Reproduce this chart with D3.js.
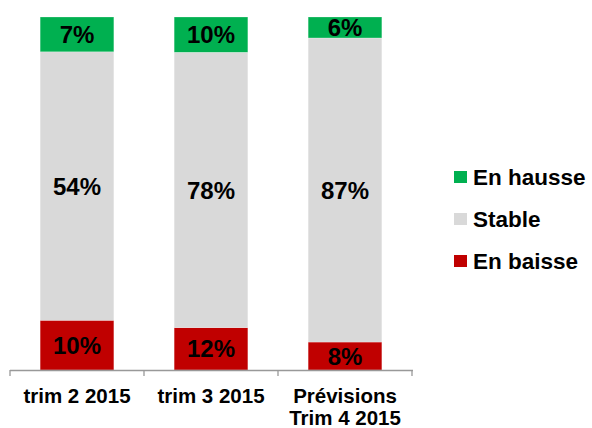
<!DOCTYPE html>
<meta charset="utf-8">
<style>
    body { margin: 0; background: #fff; }
    svg { font-family: Arial, "Liberation Sans", sans-serif; font-weight: bold; }
</style>
<body>
<svg id="chart" width="592" height="428"></svg>
<script src="https://cdn.jsdelivr.net/npm/d3@7"></script>
<script>
    // Chart values
    var categories = [["trim 2 2015"], ["trim 3 2015"], ["Prévisions", "Trim 4 2015"]];
    var enBaisse = [10, 12, 8];
    var stable = [54, 78, 87];
    var enHausse = [7, 10, 6];
    var seriesNames = ["En baisse", "Stable", "En hausse"];
    var colors = ["#C00000", "#D9D9D9", "#00B050"];

    var rows = categories.map(function (c, i) {
        return { key: i, "En baisse": enBaisse[i], "Stable": stable[i], "En hausse": enHausse[i] };
    });

    var svg = d3.select("#chart"),
        plotLeft = 10, plotRight = 412, plotTop = 17, plotBottom = 370;

    var x = d3.scaleBand().domain(d3.range(categories.length)).range([plotLeft, plotRight]).paddingInner(0.45).paddingOuter(0.225),
        y = d3.scaleLinear().domain([0, 1]).range([plotBottom, plotTop]);

    var stack = d3.stack().keys(seriesNames).offset(d3.stackOffsetExpand);
    var layers = stack(rows);

    var g = svg.selectAll("g.layer").data(layers).enter().append("g")
        .attr("class", "layer")
        .attr("fill", function (d, i) { return colors[i]; });

    g.selectAll("rect").data(function (d) { return d; }).enter().append("rect")
        .attr("x", function (d, i) { return x(i); })
        .attr("width", x.bandwidth())
        .attr("y", function (d) { return y(d[1]); })
        .attr("height", function (d) { return y(d[0]) - y(d[1]); })
        .attr("stroke", "rgba(255,255,255,0.4)")
        .attr("stroke-width", 0.6);

    // value labels
    layers.forEach(function (layer) {
        svg.selectAll(null).data(layer).enter().append("text")
            .attr("x", function (d, i) { return x(i) + x.bandwidth() / 2; })
            .attr("y", function (d) { return (y(d[0]) + y(d[1])) / 2; })
            .attr("dy", "0.36em")
            .attr("text-anchor", "middle")
            .attr("font-size", 24)
            .attr("fill", "#000")
            .text(function (d) { return d.data[layer.key] + "%"; });
    });

    // x axis with ticks between categories
    var axis = svg.append("g").attr("stroke", "#999").attr("stroke-width", 1.3);
    axis.append("line").attr("x1", plotLeft).attr("x2", plotRight + 1).attr("y1", plotBottom + 0.5).attr("y2", plotBottom + 0.5);
    d3.range(categories.length + 1).forEach(function (i) {
        var tx = plotLeft + i * x.step();
        axis.append("line").attr("x1", tx).attr("x2", tx).attr("y1", plotBottom).attr("y2", plotBottom + 6);
    });

    categories.forEach(function (lines, i) {
        var t = svg.append("text")
            .attr("text-anchor", "middle")
            .attr("font-size", 20.5)
            .attr("fill", "#000")
            .attr("x", x(i) + x.bandwidth() / 2)
            .attr("y", 403);
        lines.forEach(function (l, j) {
            t.append("tspan").attr("x", x(i) + x.bandwidth() / 2).attr("dy", j ? 22 : 0).text(l);
        });
    });

    // legend (top to bottom: hausse, stable, baisse)
    var legend = svg.append("g").attr("transform", "translate(454,171)");
    var order = [2, 1, 0];
    order.forEach(function (s, j) {
        var row = legend.append("g").attr("transform", "translate(0," + (j * 42) + ")");
        row.append("rect").attr("width", 13).attr("height", 12).attr("fill", colors[s]);
        row.append("text").attr("x", 19).attr("y", 13.5)
            .attr("font-size", 22.5).attr("fill", "#000").text(seriesNames[s]);
    });
</script>
</body>
